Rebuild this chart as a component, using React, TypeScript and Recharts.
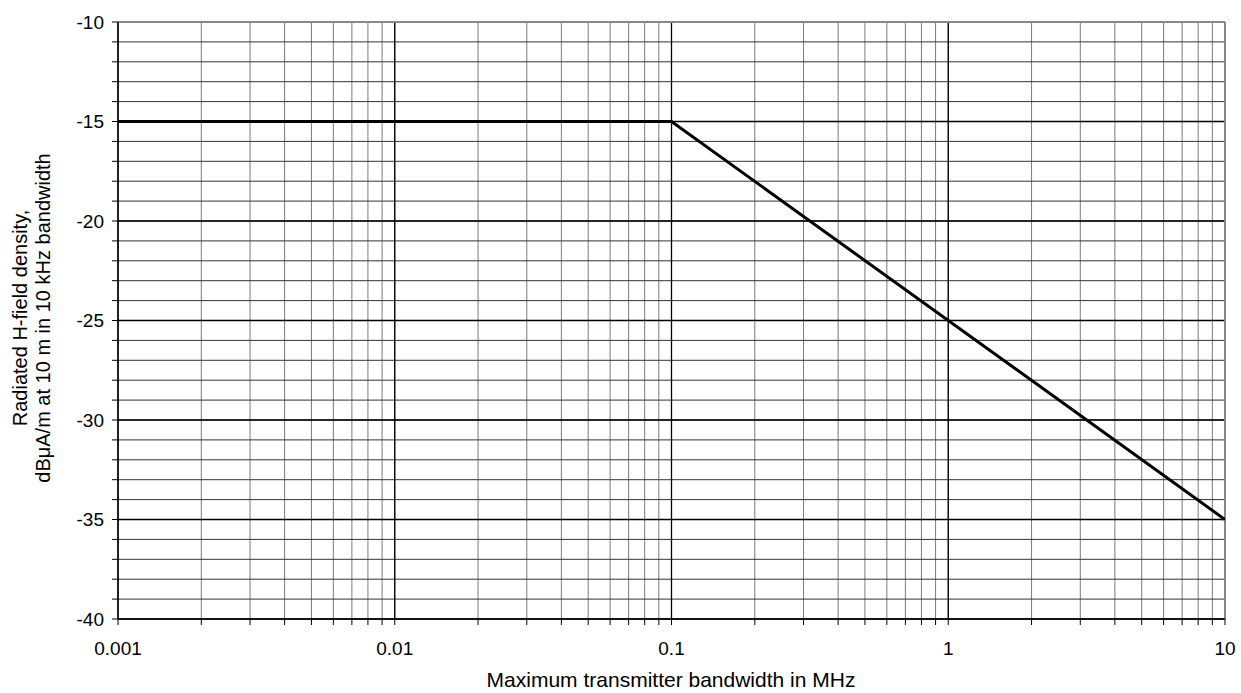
import React from 'react'
import { LineChart, Line, XAxis, YAxis, CartesianGrid, ReferenceLine } from 'recharts'

// limit curve: flat to 0.1 MHz, then -10 dB/decade
const bandwidthMHz = [0.001, 0.1, 10]
const levelDb = [-15, -15, -35]

const decades = [0.001, 0.01, 0.1, 1, 10]
const multipliers = [1, 2, 3, 4, 5, 6, 7, 8, 9]
const yMajor = [-40, -35, -30, -25, -20, -15, -10]
const yTicks = [-40, -39, -38, -37, -36, -35, -34, -33, -32, -31, -30, -29, -28, -27, -26, -25, -24, -23, -22, -21, -20, -19, -18, -17, -16, -15, -14, -13, -12, -11, -10]

const xTicks: number[] = []
decades.slice(0, -1).forEach((d) => multipliers.forEach((m) => xTicks.push(+(d * m).toPrecision(6))))
xTicks.push(10)

const data = bandwidthMHz.map((f, i) => ({ f, level: levelDb[i] }))

const font = '"Liberation Sans", Arial, sans-serif'

const isDecade = (v: number) => Math.abs(Math.log10(v) - Math.round(Math.log10(v))) < 1e-9

const YTitle = () => {
  const cy = 318
  return (
    <g fontFamily={font} fontSize={20} fill="#000">
      <text x={20} y={cy} textAnchor="middle" dominantBaseline="central" transform={`rotate(-90, 20, ${cy})`}>
        Radiated H-field density,
      </text>
      <text x={43} y={cy} textAnchor="middle" dominantBaseline="central" transform={`rotate(-90, 43, ${cy})`}>
        dBμA/m at 10 m in 10 kHz bandwidth
      </text>
    </g>
  )
}

const XTitle = () => (
  <text x={671} y={687} textAnchor="middle" fontFamily={font} fontSize={21} fill="#000">
    Maximum transmitter bandwidth in MHz
  </text>
)

export default function App() {
  return (
    <div style={{ position: 'absolute', left: 0, top: 0 }}>
      <LineChart width={1241} height={693} data={data} margin={{ top: 22, right: 16, left: 0, bottom: 0 }}>
        <CartesianGrid stroke="#7a7a7a" strokeWidth={1} horizontal={false} />
        <CartesianGrid stroke="#333" strokeWidth={1} vertical={false} />
        {decades.map((d) => (
          <ReferenceLine key={'x' + d} x={d} stroke="#000" strokeWidth={1.3} />
        ))}
        {yMajor.map((v) => (
          <ReferenceLine key={'y' + v} y={v} stroke="#000" strokeWidth={1.3} />
        ))}
        <ReferenceLine y={-10} stroke="#888" strokeWidth={2} />
        <ReferenceLine x={10} stroke="#888" strokeWidth={2} />
        <XAxis
          dataKey="f"
          type="number"
          scale="log"
          domain={[0.001, 10]}
          ticks={xTicks}
          interval={0}
          allowDataOverflow
          height={74}
          tickSize={6}
          tickMargin={17}
          tickFormatter={(v: number) => (isDecade(v) ? String(v) : '')}
          tick={{ fill: '#000', fontSize: 19, fontFamily: font }}
          axisLine={{ stroke: '#000' }}
          tickLine={{ stroke: '#000' }}
          label={<XTitle />}
        />
        <YAxis
          type="number"
          domain={[-40, -10]}
          ticks={yTicks}
          interval={0}
          width={118}
          tickSize={6}
          tickMargin={8}
          tickFormatter={(v: number) => (v % 5 === 0 ? String(v) : '')}
          tick={{ fill: '#000', fontSize: 19, fontFamily: font }}
          axisLine={{ stroke: '#000' }}
          tickLine={{ stroke: '#000' }}
          label={<YTitle />}
        />
        <Line
          type="linear"
          dataKey="level"
          stroke="#000"
          strokeWidth={3}
          dot={false}
          activeDot={false}
          isAnimationActive={false}
        />
      </LineChart>
    </div>
  )
}
